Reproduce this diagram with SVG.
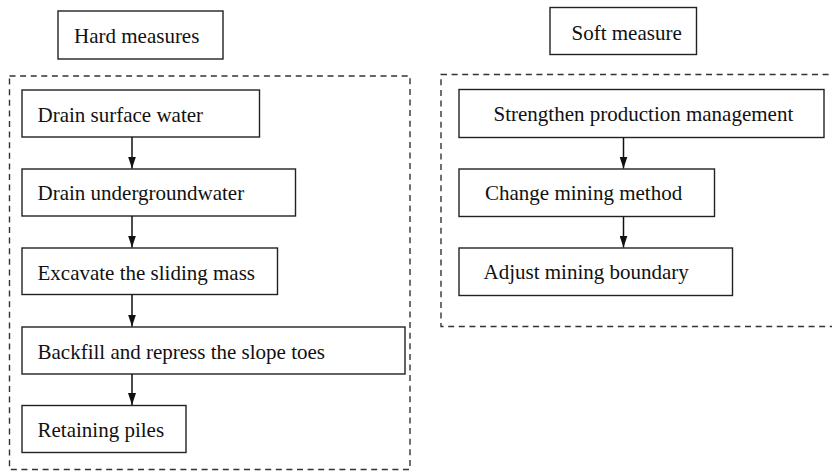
<svg xmlns="http://www.w3.org/2000/svg" width="832" height="472" viewBox="0 0 832 472">
<defs>
<style>
.box{fill:#fff;stroke:#222;stroke-width:1.4}
.grp{fill:none;stroke:#333;stroke-width:1.4;stroke-dasharray:6 4.6}
.t{font-family:"Liberation Serif","Times New Roman",serif;font-size:21px;fill:#111}
.c{stroke:#111;stroke-width:1.5;fill:none}
</style>
<marker id="ah" markerWidth="12" markerHeight="8" refX="12" refY="4" orient="auto" markerUnits="userSpaceOnUse" viewBox="0 0 12 8">
<path d="M0,0 L12,4 L0,8 Z" fill="#111"/>
</marker>
</defs>
<rect width="832" height="472" fill="#fff"/>
<g id="hard-group"><rect class="grp" x="9.5" y="76" width="400.5" height="393.5"/></g>
<g id="soft-group"><rect class="grp" x="441" y="74.5" width="400" height="252"/></g>
<g id="hard-title"><rect class="box" x="58" y="11" width="165" height="48"/><text class="t" x="74" y="42.5">Hard measures</text></g>
<g id="soft-title"><rect class="box" x="550" y="7.5" width="146.5" height="47"/><text class="t" x="571.5" y="39.5">Soft measure</text></g>
<g id="h1"><rect class="box" x="22" y="90" width="237.5" height="47"/><text class="t" x="37.5" y="121.5">Drain surface water</text></g>
<g id="h2"><rect class="box" x="22" y="169" width="273.5" height="47"/><text class="t" x="37.5" y="200">Drain undergroundwater</text></g>
<g id="h3"><rect class="box" x="22" y="248" width="255.5" height="46.5"/><text class="t" x="37.5" y="279.5">Excavate the sliding mass</text></g>
<g id="h4"><rect class="box" x="22" y="327" width="383" height="47"/><text class="t" x="37.5" y="358.5">Backfill and repress the slope toes</text></g>
<g id="h5"><rect class="box" x="22" y="405.5" width="164" height="47"/><text class="t" x="37.5" y="437">Retaining piles</text></g>
<g id="s1"><rect class="box" x="459" y="89.5" width="365" height="48"/><text class="t" x="493.5" y="121">Strengthen production management</text></g>
<g id="s2"><rect class="box" x="459" y="169" width="255.5" height="47.5"/><text class="t" x="485" y="199.5">Change mining method</text></g>
<g id="s3"><rect class="box" x="459" y="248" width="273.5" height="47.5"/><text class="t" x="483.5" y="278.5">Adjust mining boundary</text></g>
<g id="connectors">
<line class="c" x1="132" y1="137" x2="132" y2="168.5" marker-end="url(#ah)"/>
<line class="c" x1="132" y1="216" x2="132" y2="247.5" marker-end="url(#ah)"/>
<line class="c" x1="132" y1="294.5" x2="132" y2="326.5" marker-end="url(#ah)"/>
<line class="c" x1="132" y1="374" x2="132" y2="405" marker-end="url(#ah)"/>
<line class="c" x1="623.5" y1="137.5" x2="623.5" y2="168.5" marker-end="url(#ah)"/>
<line class="c" x1="623.5" y1="216.5" x2="623.5" y2="247.5" marker-end="url(#ah)"/>
</g>
</svg>
